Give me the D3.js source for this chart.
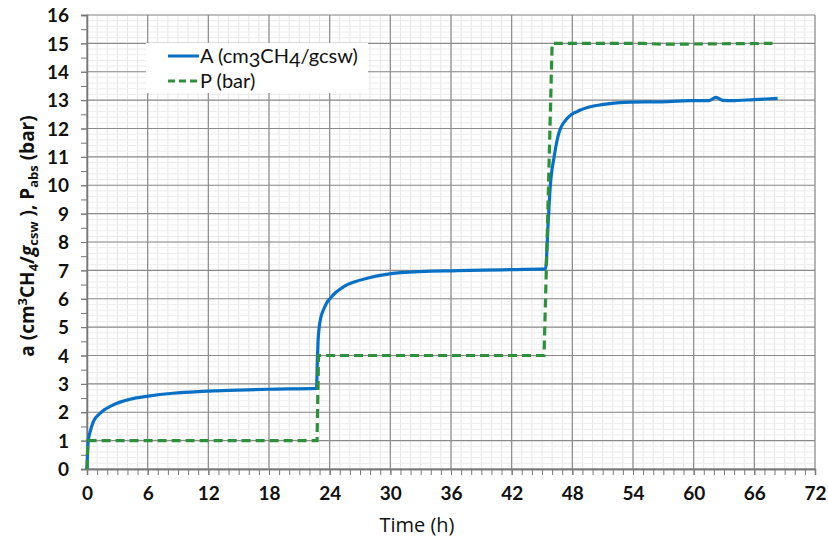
<!DOCTYPE html>
<html><head><meta charset="utf-8">
<script src="https://cdn.jsdelivr.net/npm/d3@7"></script>
<style>body{margin:0;background:#fff}svg{display:block}</style>
</head><body><svg id="c" width="828" height="542"></svg>
<script>
// data
const timeA = [0,0.05,0.15,0.3,0.63,1.29,2.6,4.26,6.07,8.5,11.0,14,18,22.7,22.78,22.85,22.95,23.1,23.4,23.7,24.06,24.6,25.4,26.5,27.7,31.0,36.6,41,45.35,45.6,45.8,46.2,46.66,47.5,48.8,51.1,53.8,56.5,59.7,61.5,62.2,62.9,63.7,66.0,68.3];
const valA  = [0,0.6,1.05,1.3,1.67,1.96,2.26,2.46,2.57,2.67,2.73,2.77,2.81,2.84,3.8,4.5,4.95,5.3,5.62,5.85,6.02,6.22,6.43,6.6,6.72,6.92,6.99,7.02,7.05,8.6,9.89,11.0,11.83,12.36,12.65,12.85,12.93,12.94,12.98,12.98,13.1,12.99,12.98,13.02,13.06];
const timeP = [0,0.1,22.75,22.9,45.2,45.5,46.0,55,57,67.8];
const valP  = [0,1,1,4,4,8,15,15,14.97,15];
const xTicks = [0,6,12,18,24,30,36,42,48,54,60,66,72];
const yTicks = d3.range(0,17,1);

const svg = d3.select('#c');
const L=87,R=815,T=15,B=469;
const x = d3.scaleLinear().domain([0,72]).range([L,R]);
const y = d3.scaleLinear().domain([0,16]).range([B,T]);
const g = svg.append('g');

// minor grid
g.selectAll('.mv').data(d3.range(0,73,1)).enter().append('line')
 .attr('x1',d=>x(d)).attr('x2',d=>x(d)).attr('y1',T).attr('y2',B)
 .attr('stroke','#e6e6e6').attr('stroke-width',1);
g.selectAll('.mh').data(d3.range(0,16.01,0.2)).enter().append('line')
 .attr('x1',L).attr('x2',R).attr('y1',d=>y(d)).attr('y2',d=>y(d))
 .attr('stroke','#ececec').attr('stroke-width',1);
// major grid
g.selectAll('.Mv').data(xTicks).enter().append('line')
 .attr('x1',d=>x(d)).attr('x2',d=>x(d)).attr('y1',T).attr('y2',B)
 .attr('stroke','#8a8a8a').attr('stroke-width',1.2);
g.selectAll('.Mh').data(yTicks).enter().append('line')
 .attr('x1',L).attr('x2',R).attr('y1',d=>y(d)).attr('y2',d=>y(d))
 .attr('stroke','#8a8a8a').attr('stroke-width',1.2);

// axes
const xAx = d3.axisBottom(x).tickValues(xTicks).tickSize(6).tickPadding(12);
const xg = svg.append('g').attr('transform',`translate(0,${B})`).call(xAx);
const xm = svg.append('g').attr('transform',`translate(0,${B})`)
 .call(d3.axisBottom(x).tickValues(d3.range(0,73,1)).tickSize(6).tickFormat(''));
const yAx = d3.axisLeft(y).tickValues(yTicks).tickSize(6).tickPadding(12);
const yg = svg.append('g').attr('transform',`translate(${L},0)`).call(yAx);
const ym = svg.append('g').attr('transform',`translate(${L},0)`)
 .call(d3.axisLeft(y).tickValues(d3.range(0,16.01,0.5)).tickSize(6).tickFormat(''));
[xg,xm,yg,ym].forEach(a=>{a.select('.domain').attr('stroke','#777').attr('stroke-width',1.3);
 a.selectAll('.tick line').attr('stroke','#777');});
[xg,yg].forEach(a=>a.selectAll('text').attr('font-family','Lato, "Open Sans", sans-serif')
 .attr('font-weight','bold').attr('font-size',19).attr('fill','#111'));
yg.selectAll('text').attr('dy','0.35em');

// legend box
svg.append('rect').attr('x',146).attr('y',43).attr('width',222).attr('height',50).attr('fill','#fff');

// lines
const lineA = d3.line().x((d,i)=>x(timeA[i])).y(d=>y(d)).curve(d3.curveMonotoneX);
svg.append('path').attr('d',lineA(valA)).attr('fill','none').attr('stroke','#0a70c4').attr('stroke-width',3.2).attr('stroke-linejoin','round');
const lineP = d3.line().x((d,i)=>x(timeP[i])).y(d=>y(d));
svg.append('path').attr('d',lineP(valP)).attr('fill','none').attr('stroke','#2f8f3c').attr('stroke-width',3.2).attr('stroke-dasharray','9,5');

// legend
const lf = 'Lato, "Open Sans", sans-serif';
const tf = '"Open Sans", sans-serif';
svg.append('line').attr('x1',168).attr('x2',199).attr('y1',56).attr('y2',56).attr('stroke','#0a70c4').attr('stroke-width',3);
svg.append('line').attr('x1',168).attr('x2',199).attr('y1',81).attr('y2',81).attr('stroke','#2f8f3c').attr('stroke-width',3).attr('stroke-dasharray','7,4');
const t1 = svg.append('text').attr('x',200).attr('y',63).attr('font-family',lf).attr('font-size',20).attr('fill','#111');
t1.append('tspan').text('A (cm');
t1.append('tspan').attr('dy',4).text('3');
t1.append('tspan').attr('dy',-4).text('CH');
t1.append('tspan').attr('dy',4).text('4');
t1.append('tspan').attr('dy',-4).text('/gcsw)');
svg.append('text').attr('x',200).attr('y',88).attr('font-family',lf).attr('font-size',20).attr('fill','#111').text('P (bar)');

// axis titles
svg.append('text').attr('x',417).attr('y',532).attr('text-anchor','middle').attr('font-family',tf).attr('font-size',20).attr('fill','#111').text('Time (h)');
const yt = svg.append('text').attr('transform','translate(34,236) rotate(-90)').attr('text-anchor','middle')
 .attr('font-family',tf).attr('font-size',19).attr('font-weight','bold').attr('fill','#111');
yt.append('tspan').text('a (cm');
yt.append('tspan').attr('dy',-7).attr('font-size',13).text('3');
yt.append('tspan').attr('dy',7).text('CH');
yt.append('tspan').attr('dy',4).attr('font-size',13).text('4');
yt.append('tspan').attr('dy',-4).text('/');
yt.append('tspan').attr('font-style','italic').text('g');
yt.append('tspan').attr('dy',4).attr('font-size',13).text('csw');
yt.append('tspan').attr('dy',-4).text(' ),   P');
yt.append('tspan').attr('dy',4).attr('font-size',13).text('abs');
yt.append('tspan').attr('dy',-4).text(' (bar)');
</script></body></html>
